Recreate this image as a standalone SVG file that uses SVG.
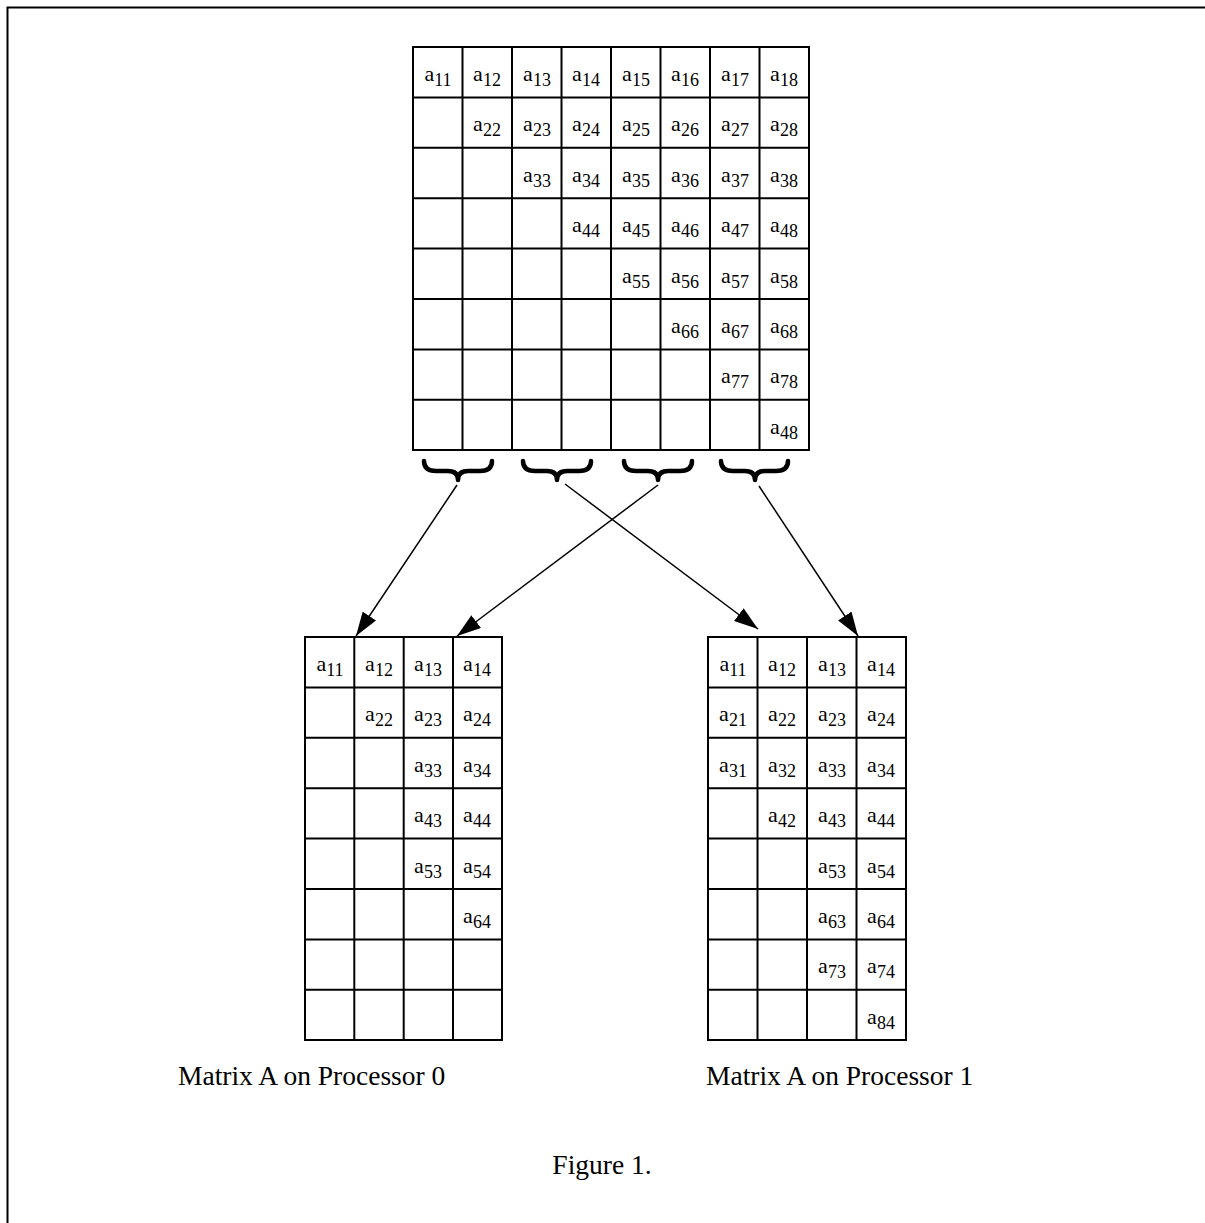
<svg xmlns="http://www.w3.org/2000/svg" width="1205" height="1223" viewBox="0 0 1205 1223">
<style>
.g{fill:none;stroke:#000;stroke-width:2}
.c{font-family:"Liberation Serif","Times New Roman",serif;font-size:22px;fill:#000;text-anchor:middle}
.s{font-size:18px}
.lbl{font-family:"Liberation Serif","Times New Roman",serif;font-size:27.5px;fill:#000}
.br{fill:none;stroke:#000;stroke-width:4.5;stroke-linejoin:round;stroke-linecap:round}
.ar{fill:none;stroke:#000;stroke-width:1.5}
</style>
<defs>
<marker id="ah" markerUnits="userSpaceOnUse" viewBox="0 0 24 16" refX="24" refY="8" markerWidth="24" markerHeight="16" orient="auto">
<path d="M0,0 L24,8 L0,16 z" fill="#000"/>
</marker>
</defs>
<rect width="1205" height="1223" fill="#fff"/>
<path d="M7.5,1223 V7.5 H1205" fill="none" stroke="#000" stroke-width="2"/>

<g id="matrix-top">
<rect class="g" x="413" y="47" width="396" height="403"/>
<path class="g" d="M462.5,47V450M512,47V450M561.5,47V450M611,47V450M660.5,47V450M710,47V450M759.5,47V450M413,97.4H809M413,147.8H809M413,198.2H809M413,248.6H809M413,299H809M413,349.4H809M413,399.8H809"/>
<text class="c" x="438" y="81">a<tspan class="s" dy="5">11</tspan></text>
<text class="c" x="487" y="81">a<tspan class="s" dy="5">12</tspan></text>
<text class="c" x="537" y="81">a<tspan class="s" dy="5">13</tspan></text>
<text class="c" x="586" y="81">a<tspan class="s" dy="5">14</tspan></text>
<text class="c" x="636" y="81">a<tspan class="s" dy="5">15</tspan></text>
<text class="c" x="685" y="81">a<tspan class="s" dy="5">16</tspan></text>
<text class="c" x="735" y="81">a<tspan class="s" dy="5">17</tspan></text>
<text class="c" x="784" y="81">a<tspan class="s" dy="5">18</tspan></text>
<text class="c" x="487" y="131">a<tspan class="s" dy="5">22</tspan></text>
<text class="c" x="537" y="131">a<tspan class="s" dy="5">23</tspan></text>
<text class="c" x="586" y="131">a<tspan class="s" dy="5">24</tspan></text>
<text class="c" x="636" y="131">a<tspan class="s" dy="5">25</tspan></text>
<text class="c" x="685" y="131">a<tspan class="s" dy="5">26</tspan></text>
<text class="c" x="735" y="131">a<tspan class="s" dy="5">27</tspan></text>
<text class="c" x="784" y="131">a<tspan class="s" dy="5">28</tspan></text>
<text class="c" x="537" y="182">a<tspan class="s" dy="5">33</tspan></text>
<text class="c" x="586" y="182">a<tspan class="s" dy="5">34</tspan></text>
<text class="c" x="636" y="182">a<tspan class="s" dy="5">35</tspan></text>
<text class="c" x="685" y="182">a<tspan class="s" dy="5">36</tspan></text>
<text class="c" x="735" y="182">a<tspan class="s" dy="5">37</tspan></text>
<text class="c" x="784" y="182">a<tspan class="s" dy="5">38</tspan></text>
<text class="c" x="586" y="232">a<tspan class="s" dy="5">44</tspan></text>
<text class="c" x="636" y="232">a<tspan class="s" dy="5">45</tspan></text>
<text class="c" x="685" y="232">a<tspan class="s" dy="5">46</tspan></text>
<text class="c" x="735" y="232">a<tspan class="s" dy="5">47</tspan></text>
<text class="c" x="784" y="232">a<tspan class="s" dy="5">48</tspan></text>
<text class="c" x="636" y="283">a<tspan class="s" dy="5">55</tspan></text>
<text class="c" x="685" y="283">a<tspan class="s" dy="5">56</tspan></text>
<text class="c" x="735" y="283">a<tspan class="s" dy="5">57</tspan></text>
<text class="c" x="784" y="283">a<tspan class="s" dy="5">58</tspan></text>
<text class="c" x="685" y="333">a<tspan class="s" dy="5">66</tspan></text>
<text class="c" x="735" y="333">a<tspan class="s" dy="5">67</tspan></text>
<text class="c" x="784" y="333">a<tspan class="s" dy="5">68</tspan></text>
<text class="c" x="735" y="383">a<tspan class="s" dy="5">77</tspan></text>
<text class="c" x="784" y="383">a<tspan class="s" dy="5">78</tspan></text>
<text class="c" x="784" y="434">a<tspan class="s" dy="5">48</tspan></text>
</g>

<g id="braces">
<path class="br" d="M424,461 Q424,471 436,471 L448,471 Q458,471 458,480 Q458,471 468,471 L480,471 Q492,471 492,461"/>
<path class="br" d="M523,461 Q523,471 535,471 L547,471 Q557,471 557,480 Q557,471 567,471 L579,471 Q591,471 591,461"/>
<path class="br" d="M624,461 Q624,471 636,471 L648,471 Q658,471 658,480 Q658,471 668,471 L680,471 Q692,471 692,461"/>
<path class="br" d="M721,461 Q721,471 733,471 L745,471 Q755,471 755,480 Q755,471 765,471 L776,471 Q788,471 788,461"/>
</g>

<g id="matrix-p0">
<rect class="g" x="305" y="637" width="197" height="403"/>
<path class="g" d="M354.3,637V1040M403.7,637V1040M453,637V1040M305,687.4H502M305,737.8H502M305,788.2H502M305,838.6H502M305,889H502M305,939.4H502M305,989.8H502"/>
<text class="c" x="330" y="671">a<tspan class="s" dy="5">11</tspan></text>
<text class="c" x="379" y="671">a<tspan class="s" dy="5">12</tspan></text>
<text class="c" x="428" y="671">a<tspan class="s" dy="5">13</tspan></text>
<text class="c" x="477" y="671">a<tspan class="s" dy="5">14</tspan></text>
<text class="c" x="379" y="721">a<tspan class="s" dy="5">22</tspan></text>
<text class="c" x="428" y="721">a<tspan class="s" dy="5">23</tspan></text>
<text class="c" x="477" y="721">a<tspan class="s" dy="5">24</tspan></text>
<text class="c" x="428" y="772">a<tspan class="s" dy="5">33</tspan></text>
<text class="c" x="477" y="772">a<tspan class="s" dy="5">34</tspan></text>
<text class="c" x="428" y="822">a<tspan class="s" dy="5">43</tspan></text>
<text class="c" x="477" y="822">a<tspan class="s" dy="5">44</tspan></text>
<text class="c" x="428" y="873">a<tspan class="s" dy="5">53</tspan></text>
<text class="c" x="477" y="873">a<tspan class="s" dy="5">54</tspan></text>
<text class="c" x="477" y="923">a<tspan class="s" dy="5">64</tspan></text>
</g>

<g id="matrix-p1">
<rect class="g" x="708" y="637" width="198" height="403"/>
<path class="g" d="M757.5,637V1040M807,637V1040M856.5,637V1040M708,687.4H906M708,737.8H906M708,788.2H906M708,838.6H906M708,889H906M708,939.4H906M708,989.8H906"/>
<text class="c" x="733" y="671">a<tspan class="s" dy="5">11</tspan></text>
<text class="c" x="782" y="671">a<tspan class="s" dy="5">12</tspan></text>
<text class="c" x="832" y="671">a<tspan class="s" dy="5">13</tspan></text>
<text class="c" x="881" y="671">a<tspan class="s" dy="5">14</tspan></text>
<text class="c" x="733" y="721">a<tspan class="s" dy="5">21</tspan></text>
<text class="c" x="782" y="721">a<tspan class="s" dy="5">22</tspan></text>
<text class="c" x="832" y="721">a<tspan class="s" dy="5">23</tspan></text>
<text class="c" x="881" y="721">a<tspan class="s" dy="5">24</tspan></text>
<text class="c" x="733" y="772">a<tspan class="s" dy="5">31</tspan></text>
<text class="c" x="782" y="772">a<tspan class="s" dy="5">32</tspan></text>
<text class="c" x="832" y="772">a<tspan class="s" dy="5">33</tspan></text>
<text class="c" x="881" y="772">a<tspan class="s" dy="5">34</tspan></text>
<text class="c" x="782" y="822">a<tspan class="s" dy="5">42</tspan></text>
<text class="c" x="832" y="822">a<tspan class="s" dy="5">43</tspan></text>
<text class="c" x="881" y="822">a<tspan class="s" dy="5">44</tspan></text>
<text class="c" x="832" y="873">a<tspan class="s" dy="5">53</tspan></text>
<text class="c" x="881" y="873">a<tspan class="s" dy="5">54</tspan></text>
<text class="c" x="832" y="923">a<tspan class="s" dy="5">63</tspan></text>
<text class="c" x="881" y="923">a<tspan class="s" dy="5">64</tspan></text>
<text class="c" x="832" y="973">a<tspan class="s" dy="5">73</tspan></text>
<text class="c" x="881" y="973">a<tspan class="s" dy="5">74</tspan></text>
<text class="c" x="881" y="1024">a<tspan class="s" dy="5">84</tspan></text>
</g>

<g id="connectors">
<line class="ar" x1="457" y1="485" x2="356" y2="636" marker-end="url(#ah)"/>
<line class="ar" x1="658" y1="485" x2="457" y2="636" marker-end="url(#ah)"/>
<line class="ar" x1="565" y1="484" x2="758" y2="629" marker-end="url(#ah)"/>
<line class="ar" x1="759" y1="486" x2="858" y2="636" marker-end="url(#ah)"/>
</g>

<g id="labels">
<text class="lbl" x="178" y="1085">Matrix A on Processor 0</text>
<text class="lbl" x="706" y="1085">Matrix A on Processor 1</text>
<text class="lbl" x="602" y="1174" text-anchor="middle">Figure 1.</text>
</g>
</svg>
